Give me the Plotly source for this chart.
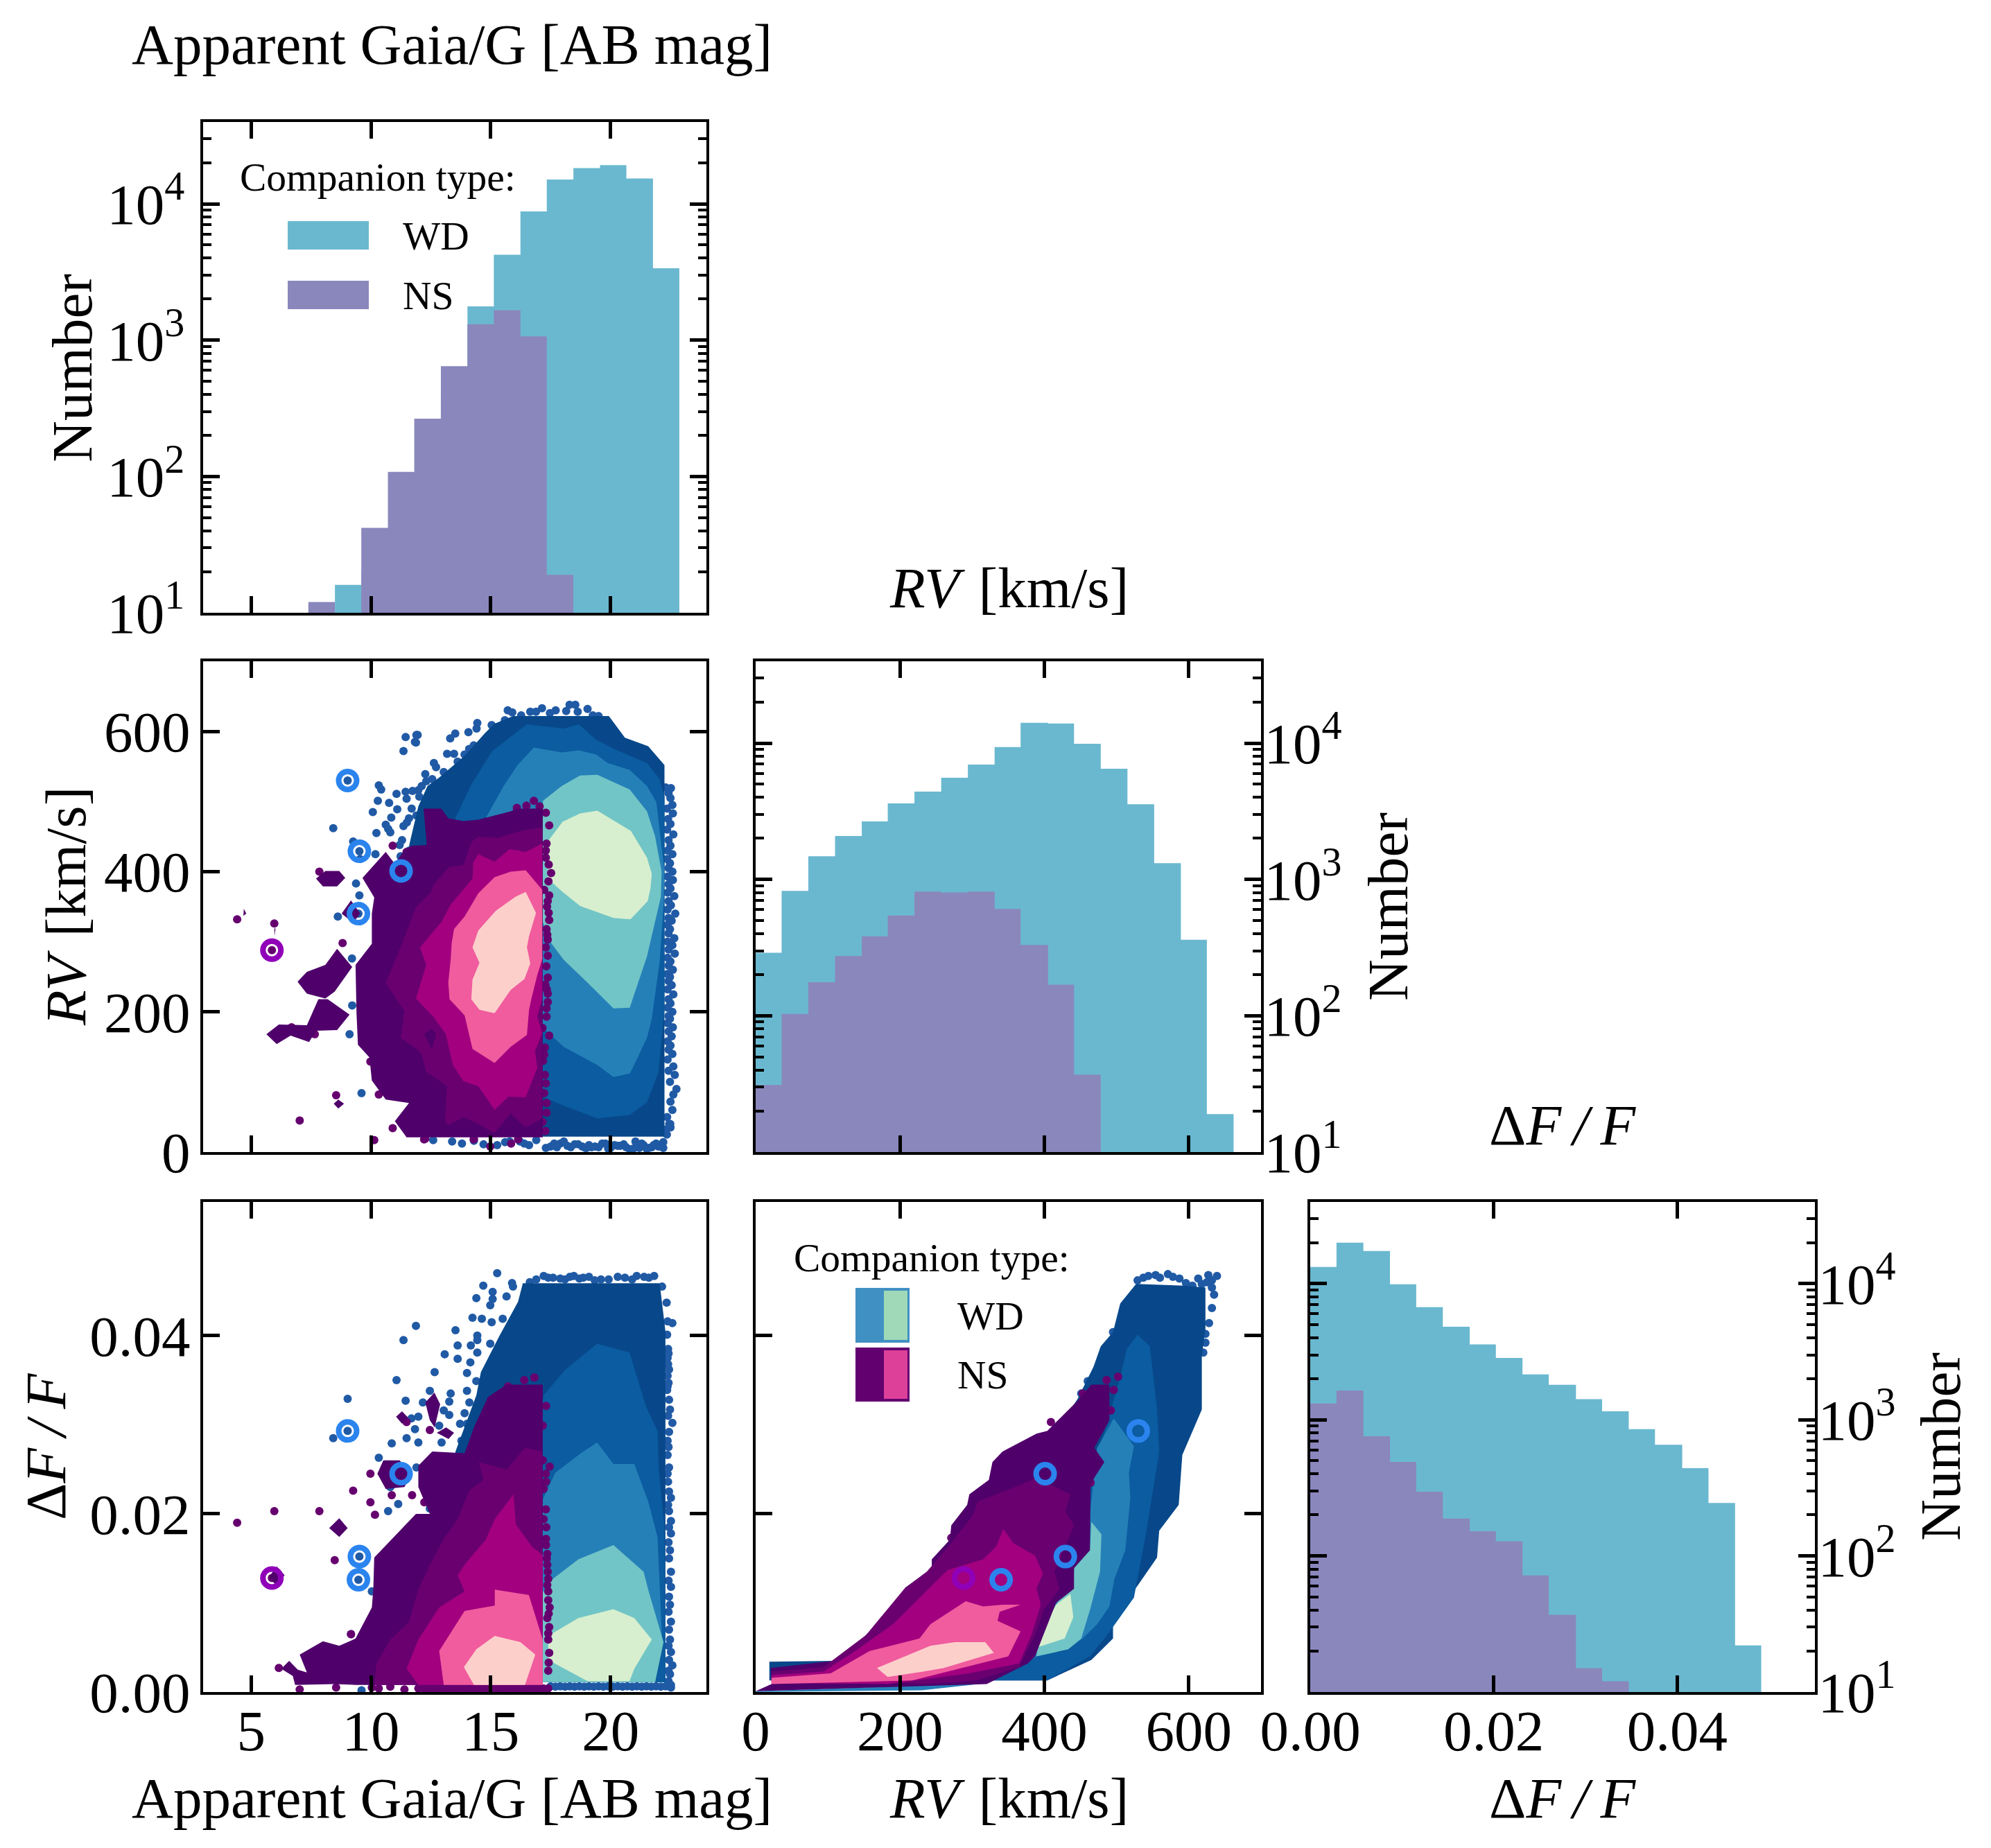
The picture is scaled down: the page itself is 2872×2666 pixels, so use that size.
"""Corner plot of apparent magnitude, RV and dF/F for WD and NS companions"""

import plotly.graph_objects as go

W, H = 2872, 2666
FONT = 'Liberation Serif'
PAGE_MARGIN = 8  # the browser's own body margin

# histograms -----------------------------------------------------------------
g_edges = [7.39, 8.50, 9.60, 10.71, 11.81, 12.92, 14.03, 15.13, 16.24, 17.34, 18.45, 19.56, 20.66, 21.77, 22.87]
g_wd = [None, 16, 20, 35, 90, 380, 1767, 4227, 8790, 15070, 18280, 19180, 15350, 3365]
g_ns = [12, None, 42, 108, 265, 644, 1306, 1660, 1067, 19, None, None, None, None]

rv_edges = [0, 36, 73, 110, 147, 183, 220, 257, 294, 331, 367, 405, 441, 478, 515, 552, 589, 625, 662]
rv_wd = [290, 824, 1480, 2083, 2660, 3614, 4406, 5570, 6950, 9340, 14070, 13900, 9890, 6490, 3555, 1315, 361, 19]
rv_ns = [31, 103, 176, 274, 383, 544, 815, 801, 815, 607, 330, 169, 37, None, None, None, None, None]

df_edges = [0, 0.00286, 0.00579, 0.00869, 0.01155, 0.01445, 0.01738, 0.02023, 0.02313, 0.02599, 0.02896, 0.03181,
            0.03471, 0.03757, 0.04054, 0.04340, 0.04630, 0.04915]
df_wd = [13280, 20000, 17370, 9890, 6715, 4830, 3573, 2845, 2155, 1806, 1415, 1153, 853, 656, 441, 245, 22]
df_ns = [1315, 1640, 757, 491, 296, 188, 152, 128, 72, 37, 15, 12, None, None, None, None, None]

# ring markers (blue = WD systems, purple = NS system)
ring_wd_g = [9.03, 9.52, 11.26, 9.48]
ring_wd_rv = [530, 429, 401, 340]
ring_wd_df = [0.0293, 0.0152, 0.0245, 0.0126]
ring_ns_g = [5.87]
ring_ns_rv = [288]
ring_ns_df = [0.0128]

# Gaia/G vs RV contours --------------------------------------------------------
grv_wd1_g = [11.98, 12.36, 12.84, 13.91, 14.77, 15.16, 15.93, 19.93, 20.6, 21.57, 22.25, 22.25, 12.0, 11.6, 11.6]
grv_wd1_rv = [493, 522, 534, 565, 598, 611, 622, 622, 591, 579, 552, 22, 22, 300, 438]
grv_wd2_g = [13.52, 14.19, 15.06, 16.51, 18.05, 18.68, 19.40, 20.27, 21.52, 22.05, 22.25, 22.25, 22.0, 21.52, 20.80,
             19.45, 18.05, 17.15, 14.0, 12.5, 13.0]
grv_wd2_rv = [476, 524, 572, 610, 604, 610, 588, 573, 555, 532, 507, 203, 114, 71, 53, 48, 66, 79, 70, 200, 400]
grv_wd3_g = [14.82, 15.54, 16.12, 16.80, 17.96, 18.68, 19.40, 19.88, 20.80, 21.52, 21.91, 22.10, 22.25, 22.22, 22.05,
             21.72, 21.52, 20.94, 20.80, 20.12, 19.45, 18.05, 17.18, 15.0]
grv_wd3_rv = [478, 522, 552, 577, 570, 573, 567, 555, 545, 522, 499, 443, 400, 358, 272, 190, 163, 121, 112, 107,
              124, 150, 177, 350]
grv_wd4_g = [17.18, 17.96, 18.73, 19.45, 20.80, 21.52, 21.86, 22.13, 22.10, 21.86, 21.52, 20.80, 20.12, 19.06, 18.05,
             17.52, 17.15]
grv_wd4_rv = [501, 522, 537, 538, 517, 486, 450, 400, 364, 330, 279, 206, 205, 241, 274, 298, 330]
grv_wd5_g = [17.38, 18.0, 18.73, 19.45, 20.85, 21.52, 21.72, 21.67, 21.55, 20.83, 20.12, 18.73, 18.0, 17.38]
grv_wd5_rv = [443, 471, 483, 487, 458, 420, 397, 377, 358, 332, 334, 351, 371, 390]

grv_ns1_g = [12.2, 12.94, 13.23, 13.86, 14.48, 15.83, 16.1, 17.17, 17.17, 11.49, 11.0, 11.59, 10.62, 10.04, 9.94,
             9.46, 9.40, 9.36, 10.04, 10.04, 10.14, 9.65, 10.62, 11.0, 11.4, 11.69, 12.33]
grv_ns1_rv = [490, 490, 476, 472, 474, 486, 490, 490, 21, 21, 44, 70, 75, 102, 135, 153, 198, 267, 297, 340, 363,
              391, 428, 411, 431, 437, 438]
grv_ns_isl_g = [7.71, 8.10, 8.68, 8.93, 8.59, 8.0, None, 8.78, 9.17, 9.55, 9.26, None,
                6.94, 7.33, 8.10, 8.59, 9.22, 8.49, 8.10, 7.33, None,
                7.81, 8.2, 9.11, 8.59, 7.71, 7.42, 6.65, 6.07, 5.64, 6.16, 7.33, None,
                8.64, 8.45, 8.64, 8.88, None, 4.7, 4.8, 4.68, None, 5.97, 6.02, 5.98]
grv_ns_isl_rv = [390, 401, 401, 391, 379, 379, None, 340, 359, 340, 327, None,
                 243, 257, 267, 290, 264, 229, 219, 226, None,
                 218, 218, 196, 174, 173, 157, 166, 154, 168, 182, 181, None,
                 75, 69, 62, 69, None, 347, 340, 337, None, 319, 319, 308]
grv_ns2_g = [17.15, 16.51, 15.93, 15.26, 14.48, 14.19, 13.86, 13.28, 12.60, 12.51, 11.88, 11.30, 10.62, 11.40, 11.24,
             11.90, 12.12, 12.31, 12.56, 13.18, 13.09, 13.23, 13.86, 14.48, 15.16, 15.83, 16.46, 17.15]
grv_ns2_rv = [463, 460, 455, 448, 450, 442, 409, 407, 381, 371, 349, 297, 241, 201, 163, 147, 140, 114, 109, 94, 45,
              38, 50, 40, 27, 55, 35, 48]
grv_ns_spot_g = [12.22, 12.54, 12.73, 12.54]
grv_ns_spot_rv = [168, 176, 168, 147]
grv_ns3_g = [17.15, 16.46, 15.79, 15.16, 14.48, 14.27, 14.24, 13.33, 12.94, 12.05, 12.31, 11.88, 12.60, 13.13, 13.42,
             13.86, 14.48, 15.16, 15.74, 16.46, 16.94, 16.85, 17.15, 16.94, 17.15]
grv_ns3_rv = [440, 428, 432, 414, 425, 413, 390, 353, 328, 292, 267, 219, 193, 168, 124, 101, 94, 60, 79, 78, 120,
              144, 170, 193, 219]
grv_ns4_g = [17.15, 16.46, 15.83, 15.16, 14.48, 13.91, 13.47, 13.37, 13.33, 13.23, 13.28, 13.91, 14.24, 15.16, 15.83,
             16.51, 16.6, 16.70, 16.94, 17.15]
grv_ns4_rv = [374, 402, 400, 392, 369, 336, 318, 298, 275, 242, 218, 195, 147, 127, 150, 167, 203, 219, 252, 275]
grv_ns5_g = [16.46, 16.03, 15.21, 14.48, 14.24, 14.53, 14.24, 14.19, 14.53, 15.16, 15.83, 16.41, 16.65, 16.51, 16.6,
             16.89]
grv_ns5_rv = [371, 364, 344, 316, 292, 270, 246, 218, 203, 198, 231, 247, 269, 292, 308, 341]

grv_dots_wd_g = [15.71, 15.90, 16.65, 17.14, 17.71, 18.29, 18.53, 19.04, 18.15, 16.89, 17.47, 18.63, 19.26, 19.50,
                 16.27, 15.59, 15.04, 14.44, 14.41, 14.07, 13.52, 13.31, 11.95, 11.88, 14.10, 14.29, 13.18, 13.47,
                 12.63, 12.72, 12.27, 12.56, 12.31, 12.12, 12.02, 11.98, 13.04, 13.62, 13.91,
                 11.45, 11.90, 11.84, 11.36, 10.33, 10.43, 11.07, 11.45, 11.74, 11.49, 10.29, 10.76, 10.08, 11.10,
                 10.85, 8.43, 11.59, 10.23, 10.62, 10.72, 11.36, 10.81, 9.26, 10.19, 9.55, 11.24, 9.38, 9.52, 8.62,
                 9.21, 9.22, 9.11, 9.61, 9.03, 9.52, 9.48, 11.5, 11.3, 11.7, 11.6, 11.9, 11.2]
grv_dots_wd_rv = [630, 627, 628, 633, 630, 638, 638, 632, 629, 628, 626, 628, 623, 622,
                  623, 616, 609, 612, 604, 599, 597, 590, 595, 584, 575, 580, 568, 568,
                  555, 549, 539, 532, 529, 522, 507, 516, 542, 557, 567,
                  592, 595, 585, 572, 523, 517, 511, 514, 515, 504, 501, 498, 485, 489,
                  477, 462, 476, 455, 467, 461, 465, 456, 443, 425, 418, 422, 383, 366, 336,
                  276, 209, 168, 84, 530, 429, 340, 470, 445, 490, 430, 480, 438]
# the crowded band down the faint side and along the RV floor
grv_edge_g = [22.30, 22.52, 22.42, 22.50, 22.58, 22.36, 22.60, 22.40, 22.50, 22.36, 22.62, 22.42, 22.50, 22.38, 22.58,
              22.36, 22.48, 22.42, 22.58, 22.38, 22.60, 22.42, 22.50, 22.38, 22.66, 22.42, 22.52, 22.38, 22.70, 22.42,
              22.55, 22.38, 22.48, 22.42, 22.66, 22.38, 22.58, 22.42, 22.68, 22.38, 22.50, 22.42, 22.60, 22.38, 22.48,
              22.42, 22.55, 22.38, 22.62, 22.42, 22.50, 22.38, 22.58, 22.42, 22.48, 22.38, 22.60, 22.42, 22.55, 22.38,
              22.50, 22.42, 22.58, 22.38, 22.62, 22.42, 22.68, 22.48, 22.75, 22.62, 22.50, 22.58, 22.36, 22.45, 22.50,
              22.35, 22.2,
              12.6, 13.39, 13.8, 14.3, 14.7, 15.27, 15.6, 15.79, 16.22, 16.4, 16.6, 16.9, 17.3, 17.76, 17.9, 18.05,
              18.34, 18.5, 18.82, 19.0, 19.21, 19.5, 19.79, 19.9, 20.17, 20.4, 20.65, 20.8, 21.04, 21.2, 21.38, 21.5,
              21.72, 21.9, 22.1, 22.49, 22.29,
              17.5, 17.65, 18.2, 18.65, 18.95, 19.1, 19.35, 19.65, 20.0, 20.3, 20.55, 20.95, 21.1, 21.3, 21.6, 21.8,
              22.0, 22.2]
grv_edge_rv = [520, 519, 512, 505, 495, 490, 483, 475, 468, 460, 453, 445, 437, 430, 425, 418, 412, 405, 400, 393,
               388, 382, 376, 370, 365, 358, 352, 346, 340, 334, 330, 324, 318, 312, 305, 300, 295, 289, 283, 277,
               272, 266, 260, 254, 250, 244, 238, 232, 225, 218, 212, 206, 200, 194, 190, 184, 178, 172, 165, 158,
               152, 146, 140, 132, 122, 116, 110, 100, 90, 82, 72, 60, 50, 40, 35, 25, 14,
               17, 15, 12, 16, 11, 10, 14, 15, 15, 12, 10, 17, 6, 7, 12, 15, 7, 11, 8, 6, 7, 7, 12, 5, 10, 9, 7, 4, 15,
               6, 10, 5, 7, 12, 9, 40, 32,
               8, 12, 9, 11, 6, 10, 8, 12, 6, 9, 11, 5, 8, 12, 6, 10, 8, 6]
grv_dots_ns_g = [4.42, 5.97, 7.85, 8.82, 10.91, 11.49, 6.69, 7.66, 8.55, 7.03, 10.91, 10.14, 9.98, 10.33, 14.98, 15.85,
                 14.3, 12.27, 16.09, 16.49, 16.8, 17.04, 17.3, 17.44, 17.33, 17.3, 17.42, 17.52, 17.41, 17.23, 17.44,
                 17.38, 17.42, 17.44, 17.33, 17.38, 17.38, 17.38, 17.28, 17.38, 17.38, 17.33, 17.33, 17.44, 17.16,
                 17.26, 17.23, 17.18, 17.23, 17.33, 17.16, 14.29, 12.22, 16.14, 5.87, 17.3, 17.35, 17.36, 17.3, 17.32,
                 17.34, 17.26, 17.3, 17.33, 17.28]
grv_dots_ns_rv = [332, 326, 400, 298, 437, 428, 178, 168, 81, 45, 34, 17, 129, 82, 8, 12,
                  19, 19, 491, 494, 501, 493, 484, 466, 440, 430, 410, 398, 386, 374, 366,
                  358, 341, 331, 318, 303, 280, 249, 239, 226, 214, 205, 193, 166, 177,
                  149, 139, 130, 84, 56, 43, 18, 18, 18, 288, 420, 350, 310, 292, 265, 232, 110, 98, 70, 30]

# Gaia/G vs dF/F contours ------------------------------------------------------
gdf_wd1_g = [16.34, 22.05, 22.29, 22.29, 17.15, 12.5, 13.53, 14.40, 14.59, 15.37, 16.14]
gdf_wd1_df = [0.04588, 0.04588, 0.0405, 0.0011, 0.0011, 0.005, 0.0270, 0.0333, 0.0359, 0.0400, 0.0438]
gdf_wd2_g = [17.21, 18.08, 19.44, 20.79, 21.47, 21.96, 22.01, 22.25, 22.29, 17.15, 14.0]
gdf_wd2_df = [0.0333, 0.0361, 0.0391, 0.0381, 0.0321, 0.0293, 0.025, 0.0186, 0.0011, 0.0011, 0.002]
gdf_wd3_g = [17.17, 17.69, 18.76, 19.44, 20.12, 20.99, 21.57, 21.96, 22.15, 21.86, 17.15]
gdf_wd3_df = [0.0216, 0.0246, 0.0268, 0.028, 0.0256, 0.0256, 0.0214, 0.0174, 0.0059, 0.0011, 0.0011]
gdf_wd4_g = [17.15, 17.5, 18.66, 20.12, 21.38, 21.57, 22.21, 21.86, 17.15]
gdf_wd4_df = [0.0111, 0.0125, 0.0149, 0.0165, 0.0135, 0.0115, 0.0056, 0.0011, 0.0011]
gdf_wd5_g = [17.4, 18.66, 20.12, 20.99, 21.72, 20.99, 20.79, 19.05, 17.4]
gdf_wd5_df = [0.0063, 0.0083, 0.0093, 0.0083, 0.0059, 0.0026, 0.0012, 0.0012, 0.0036]

gdf_ns1_g = [17.17, 15.66, 14.88, 14.30, 13.91, 12.56, 11.98, 11.98, 12.46, 11.88, 10.14, 10.10, 10.04, 9.36, 8.68,
             8.0, 7.03, 7.33, 6.95, 6.59, 6.26, 6.74, 6.84, 8.49, 9.36, 17.17]
gdf_ns1_df = [0.0345, 0.0345, 0.0331, 0.0297, 0.0268, 0.027, 0.0254, 0.023, 0.02, 0.02, 0.0151, 0.0115, 0.0095, 0.006,
              0.0052, 0.0057, 0.0042, 0.0022, 0.0025, 0.0035, 0.0026, 0.0018, 0.0008, 0.0009, 0.0008, 0.0008]
gdf_ns_isl_g = [10.27, 10.52, 11.2, 11.69, 11.4, 10.62, None, 12.27, 12.65, 12.89, 12.66, 12.46, None,
                11.05, 11.3, 11.55, 11.3, None, 12.75, 13.14, 13.47, 13.24, None,
                8.26, 8.68, 9.03, 8.68, None, 5.74, 6.07, 6.4, 6.07]
gdf_ns_isl_df = [0.0245, 0.026, 0.026, 0.0245, 0.023, 0.0228, None, 0.0325, 0.0336, 0.0323, 0.0297, 0.0305, None,
                 0.0309, 0.0315, 0.0308, 0.0301, None, 0.0291, 0.0297, 0.0291, 0.0284, None,
                 0.0184, 0.0195, 0.0184, 0.0174, None, 0.0129, 0.0141, 0.0131, 0.0119]
gdf_ns2_g = [17.15, 16.43, 15.66, 14.5, 14.7, 14.1, 13.62, 13.04, 12.46, 11.98, 11.59, 10.81, 10.23, 10.14, 17.17]
gdf_ns2_df = [0.027, 0.0274, 0.025, 0.0258, 0.0238, 0.0226, 0.0194, 0.0172, 0.0143, 0.0115, 0.0079, 0.0059, 0.0032,
              0.0008, 0.0008]
gdf_ns3_g = [17.17, 11.98, 11.49, 11.98, 12.85, 13.91, 13.62, 13.91, 14.79, 15.17, 15.95, 16.05, 16.72, 17.17]
gdf_ns3_df = [0.0008, 0.0008, 0.0026, 0.0059, 0.0095, 0.0113, 0.0131, 0.0143, 0.0171, 0.0194, 0.0222, 0.0188, 0.0163,
              0.0154]
gdf_ns4_g = [17.17, 16.59, 15.17, 15.17, 13.91, 12.85, 13.04, 17.17]
gdf_ns4_df = [0.0059, 0.0109, 0.0115, 0.0097, 0.0091, 0.0046, 0.0008, 0.0008]
gdf_ns5_g = [15.17, 16.24, 16.86, 16.43, 14.3, 13.88, 14.4]
gdf_ns5_df = [0.0063, 0.0056, 0.0042, 0.0008, 0.0008, 0.0028, 0.0048]

gdf_dots_wd_g = [15.27, 14.69, 15.89, 15.93, 15.08, 14.4, 15.08, 15.66, 14.98, 14.24, 14.63, 15.04, 15.5, 11.88, 11.36,
                 13.53, 14.44, 14.44, 13.62, 14.17, 14.98, 13.08, 13.62, 14.44, 14.15, 12.66, 14.01, 11.07, 14.4, 12.46,
                 13.33, 14.01, 11.45, 13.27, 12.17, 14.11, 9.03, 13.04, 13.91, 13.27, 11.98, 11.69, 13.72, 14.01, 11.84,
                 12.85, 8.43, 11.49, 9.03, 10.87, 11.98, 12.95, 13.78, 10.33, 11.9, 11.14, 10.72, 12.46, 10.33, 10.04,
                 10.81, 9.17, 9.07, 9.61, 9.52, 9.48,
                 16.63, 17.21, 17.6, 18.1, 18.47, 18.86, 19.34, 19.92, 20.6, 21.09, 21.82, 22.15, 22.34, 22.58, 22.38,
                 16.9, 17.4, 17.9, 18.3, 18.7, 19.1, 19.6, 20.3, 20.9, 21.4, 21.6]
gdf_dots_wd_df = [0.047, 0.0456, 0.0459, 0.0455, 0.0449, 0.0442, 0.0441, 0.0444, 0.0434, 0.042, 0.0419, 0.0415, 0.0419,
                  0.0411, 0.0395, 0.0406, 0.04, 0.0395, 0.0389, 0.0389, 0.0391, 0.0379, 0.0374, 0.0381, 0.037, 0.0359,
                  0.0358, 0.035, 0.0349, 0.0338, 0.0335, 0.0338, 0.0327, 0.0326, 0.0325, 0.0325, 0.0329, 0.0316, 0.0313,
                  0.0311, 0.0309, 0.0307, 0.0301, 0.0301, 0.0295, 0.0299, 0.0285, 0.0285, 0.0293, 0.0279, 0.028, 0.028,
                  0.0282, 0.0263, 0.0252, 0.0211, 0.0203, 0.0206, 0.0128, 0.0113, 0.023, 0.0065, 0.0024, 0.0002, 0.0152,
                  0.0126,
                  0.046, 0.0467, 0.0465, 0.0463, 0.0467, 0.0465, 0.0462, 0.0463, 0.0465, 0.0467, 0.0467, 0.0455, 0.0437,
                  0.0414, 0.0416,
                  0.0463, 0.0465, 0.0464, 0.0466, 0.0464, 0.0466, 0.0463, 0.0466, 0.0463, 0.0466, 0.0465]
gdf_edge_g = [22.36, 22.40, 22.42, 22.38, 22.40, 22.44, 22.38, 22.42, 22.38, 22.36, 22.44, 22.48, 22.40, 22.58, 22.44,
              22.38, 22.42, 22.38, 22.44, 22.38, 22.40, 22.44, 22.52, 22.40, 22.44, 22.52, 22.44, 22.52, 22.42, 22.48,
              22.44, 22.52, 22.42, 22.52, 22.44, 22.48, 22.42, 22.52, 22.44, 22.48, 22.42, 22.52, 22.44, 22.58, 22.42,
              22.48, 22.42, 22.52, 22.52,
              17.5, 17.7, 17.9, 18.1, 18.3, 18.5, 18.7, 18.9, 19.1, 19.3, 19.5, 19.7, 19.9, 20.1, 20.3, 20.5, 20.7, 20.9,
              21.1, 21.3, 21.5, 21.7, 21.9, 22.1, 22.3]
gdf_edge_df = [0.0401, 0.0385, 0.038, 0.0375, 0.0368, 0.0362, 0.0355, 0.0347, 0.0343, 0.0339, 0.0328, 0.0317, 0.031,
               0.0302, 0.0292, 0.0282, 0.0275, 0.0266, 0.0252, 0.0245, 0.0236, 0.0225, 0.0218, 0.021, 0.0203, 0.0192,
               0.0185, 0.0178, 0.0168, 0.0159, 0.015, 0.0135, 0.0125, 0.0118, 0.0107, 0.0098, 0.009, 0.0079, 0.007,
               0.0059, 0.0052, 0.0045, 0.0036, 0.003, 0.0024, 0.002, 0.0012, 0.0008, 0.0005,
               0.00065, 0.0006, 0.00065, 0.0006, 0.00065, 0.0006, 0.00065, 0.0006, 0.00065, 0.0006, 0.00065, 0.0006,
               0.00065, 0.0006, 0.00065, 0.0006, 0.00065, 0.0006, 0.00065, 0.0006, 0.00065, 0.0006, 0.00065, 0.0006,
               0.00065]
gdf_dots_ns_g = [4.42, 5.97, 7.85, 9.26, 10.87, 11.72, 9.98, 10.17, 12.23, 9.98, 8.49, 6.16, 9.17, 7.03, 8.55, 11.49,
                 12.46, 16.4, 16.82, 15.72, 17.31, 17.17, 17.17, 17.46, 17.31, 17.21, 17.21, 17.31, 17.31, 17.36, 17.36,
                 17.4, 17.4, 17.46, 17.36, 17.44, 17.4, 17.44, 17.4, 17.4, 10.04, 10.33, 10.81, 11.4, 11.98, 12.4, 12.8,
                 13.2, 13.6, 14.0, 14.4, 14.8, 15.2, 15.6, 16.0, 16.4, 16.8, 17.2, 5.87, 17.3, 17.32, 17.3, 17.34, 17.38,
                 17.36, 17.4, 17.42, 17.4, 17.42,
                 12.2, 12.6, 13.0, 13.4, 13.8, 14.2, 14.6, 15.0, 15.4, 15.8, 16.2, 16.6, 17.0]
gdf_dots_ns_df = [0.019, 0.0203, 0.0203, 0.0226, 0.0221, 0.0221, 0.0213, 0.0199, 0.0213, 0.0245, 0.0148, 0.0027, 0.0065,
                  0.0003, 0.0005, 0.0303, 0.0294, 0.035, 0.0353, 0.0343, 0.0321, 0.0299, 0.026, 0.0253, 0.0236, 0.0228,
                  0.0194, 0.0172, 0.0165, 0.0155, 0.0143, 0.0127, 0.0113, 0.0095, 0.0083, 0.0073, 0.0059, 0.0044, 0.0024,
                  0.0004, 0.0005, 0.0004, 0.0006, 0.0003, 0.0004, 0.0004, 0.0004, 0.0004, 0.0004, 0.0004, 0.0004, 0.0004,
                  0.0004, 0.0004, 0.0004, 0.0004, 0.0004, 0.0004, 0.0128, 0.0245, 0.0185, 0.0205, 0.015, 0.0135, 0.012,
                  0.0103, 0.0088, 0.0066, 0.0033,
                  0.0004, 0.0004, 0.0004, 0.0004, 0.0004, 0.0004, 0.0004, 0.0004, 0.0004, 0.0004, 0.0004, 0.0004, 0.0004]

# RV vs dF/F contours ----------------------------------------------------------
rdf_wd1_rv = [527, 593, 623, 623, 618, 618, 591, 586, 559, 556, 527, 495, 495, 465, 404, 19, 19, 109, 300, 446, 468,
              478, 495, 505]
rdf_wd1_df = [0.0458, 0.0456, 0.0454, 0.0408, 0.0377, 0.0317, 0.0266, 0.021, 0.0181, 0.0151, 0.0117, 0.0078, 0.006,
              0.0036, 0.0013, 0.0013, 0.0034, 0.0035, 0.015, 0.0329, 0.0365, 0.0388, 0.0404, 0.0436]
rdf_wd_sliver_rv = [0, 320, 230, 0]
rdf_wd_sliver_df = [0.0001, 0.0010, 0.0002, 0.0000]
rdf_wd2_rv = [529, 546, 556, 559, 541, 524, 487, 463, 404, 320, 450, 492, 505, 514]
rdf_wd2_df = [0.0401, 0.0388, 0.0317, 0.027, 0.0179, 0.0106, 0.0064, 0.004, 0.0013, 0.0013, 0.02, 0.0317, 0.0353, 0.0385]
rdf_wd3_rv = [496, 524, 517, 519, 512, 497, 490, 473, 453, 433, 389, 374, 333, 320, 463, 473]
rdf_wd3_df = [0.0307, 0.0276, 0.0246, 0.0218, 0.0159, 0.0127, 0.0096, 0.0076, 0.006, 0.0048, 0.004, 0.0032, 0.0017,
              0.0013, 0.0199, 0.0274]
rdf_wd4_rv = [465, 479, 477, 463, 451, 433, 389, 392, 419, 440, 441, 463]
rdf_wd4_df = [0.0191, 0.0177, 0.0135, 0.0092, 0.006, 0.0048, 0.004, 0.006, 0.0102, 0.0116, 0.0139, 0.0159]
rdf_wd5_rv = [436, 440, 428, 389, 392, 416]
rdf_wd5_df = [0.011, 0.0084, 0.006, 0.005, 0.0062, 0.0098]

rdf_ns1_rv = [490, 465, 446, 404, 389, 342, 328, 323, 296, 293, 271, 269, 244, 244, 207, 193, 148, 109, 21, 22, 0, 320,
              377, 387, 416, 441, 441, 463, 464, 483, 469, 490]
rdf_ns1_df = [0.0345, 0.0345, 0.0327, 0.0293, 0.029, 0.027, 0.0258, 0.0238, 0.0222, 0.021, 0.0187, 0.0171, 0.0149,
              0.0139, 0.0117, 0.0096, 0.006, 0.0035, 0.0027, 0.0009, 0.0001, 0.0009, 0.0032, 0.004, 0.01, 0.0116, 0.0139,
              0.0159, 0.0234, 0.0258, 0.0274, 0.0305]
rdf_ns2_rv = [389, 436, 429, 441, 414, 421, 399, 387, 365, 306, 237, 22, 22, 94, 153, 205, 237, 271, 301, 308, 365]
rdf_ns2_df = [0.024, 0.0222, 0.0203, 0.0187, 0.0135, 0.0116, 0.0092, 0.0064, 0.0028, 0.0013, 0.0009, 0.0016, 0.0023,
              0.0028, 0.0064, 0.0115, 0.0135, 0.0167, 0.0199, 0.0214, 0.0232]
rdf_ns3_rv = [343, 357, 387, 398, 389, 395, 382, 365, 296, 183, 22, 22, 94, 134, 190, 232, 266, 315, 333]
rdf_ns3_df = [0.0183, 0.0167, 0.0153, 0.0133, 0.0116, 0.0098, 0.0064, 0.0032, 0.0021, 0.0009, 0.001, 0.0019, 0.0023,
              0.0044, 0.0076, 0.011, 0.0137, 0.0149, 0.0163]
rdf_ns4_rv = [291, 315, 342, 367, 338, 335, 367, 350, 286, 217, 22, 22, 104, 158, 227, 242]
rdf_ns4_df = [0.0102, 0.0096, 0.0098, 0.0098, 0.009, 0.008, 0.0068, 0.004, 0.0027, 0.0013, 0.0009, 0.0016, 0.0021,
              0.0046, 0.006, 0.0076]
rdf_ns5_rv = [168, 242, 276, 318, 330, 261, 232, 183]
rdf_ns5_df = [0.0027, 0.0052, 0.0056, 0.0056, 0.0044, 0.0027, 0.0023, 0.0017]

rdf_dots_wd_rv = [529, 544, 554, 571, 587, 596, 613, 627, 639, 632, 635, 632, 628, 623, 623, 620, 605, 625, 460, 451,
                  495, 530, 429, 401, 340, 537, 560, 578, 618, 632]
rdf_dots_wd_df = [0.0462, 0.0467, 0.0468, 0.0469, 0.0464, 0.0459, 0.0464, 0.0468, 0.0467, 0.0454, 0.0446, 0.0431, 0.0414,
                  0.0402, 0.0392, 0.0381, 0.0456, 0.046, 0.0349, 0.0335, 0.0404, 0.0293, 0.0152, 0.0245, 0.0126, 0.0465,
                  0.0465, 0.0466, 0.0458, 0.0462]
rdf_dots_ns_rv = [486, 502, 496, 453, 492, 409, 367, 464, 271]
rdf_dots_ns_df = [0.035, 0.0354, 0.0339, 0.0335, 0.0316, 0.0303, 0.0275, 0.0235, 0.0173]

# tick labels
g_ticks = [5, 10, 15, 20]
rv_ticks = [0, 200, 400, 600]
df_ticks = [0, 0.02, 0.04]
df_ticktext = ['0.00', '0.02', '0.04']
count_ticks = [10, 100, 1000, 10000]
count_ticktext = ['10<sup>1</sup>', '10<sup>2</sup>', '10<sup>3</sup>', '10<sup>4</sup>']

# colours
C_HIST_WD = '#6ab8d0'
C_HIST_NS = '#8a87bd'
C_WD = ['#08488a', '#0b5ca0', '#2680b8', '#72c5c6', '#d7efcf']
C_NS = ['#4f006b', '#6a0070', '#a2007f', '#f05c9e', '#fdcfcb']
C_DOT_WD = '#205aa5'
C_DOT_NS = '#66006f'
C_RING_WD = '#2b84ee'
C_RING_NS = '#9000b8'

# panel frames in page pixels: left, right, top, bottom
COLS = [(293, 1019), (1090, 1819), (1890, 2618)]
ROWS = [(176, 884), (954, 1662), (1734, 2441)]


def px(x):
    return (x - PAGE_MARGIN) / W


def py(y):
    return 1 - (y - PAGE_MARGIN) / H


def axis(frame, horizontal, **kw):
    lo, hi = frame
    domain = [px(lo), px(hi)] if horizontal else [py(hi), py(lo)]
    settings = dict(domain=domain, automargin=False, showgrid=False, zeroline=False, showline=True, linecolor='black',
                    linewidth=4, mirror='ticks', ticks='inside', ticklen=24, tickwidth=5, tickcolor='black',
                    layer='above traces', tickfont=dict(family=FONT, size=83, color='black'),
                    ticklabelstandoff=-20 if horizontal else -2)
    settings.update(kw)
    return settings


def fixed_ticks(vals, text=None):
    if text is None:
        return dict(tickmode='array', tickvals=vals, showticklabels=False)
    return dict(tickmode='array', tickvals=vals, ticktext=text, showticklabels=True)


def log_axis(frame, side, labelled=True):
    minor_vals = [m * 10 ** e for e in range(1, 5) for m in range(2, 10) if m * 10 ** e < 40000]
    return axis(frame, False, type='log', range=[1, 4.6], side=side,
                ticklabelstandoff=6 if side == 'left' else -16,
                minor=dict(tickmode='array', tickvals=minor_vals, ticks='inside', ticklen=12, tickwidth=4,
                           tickcolor='black'),
                **fixed_ticks(count_ticks, count_ticktext if labelled else None))


def add_hist(fig, edges, wd, ns, xa, ya):
    # one closed step outline per series, empty bins sit on the axis floor
    for vals, colour in ((wd, C_HIST_WD), (ns, C_HIST_NS)):
        xs, ys = [edges[0]], [10]
        for i, v in enumerate(vals):
            v = 10 if v is None else v
            xs += [edges[i], edges[i + 1]]
            ys += [v, v]
        xs.append(edges[-1])
        ys.append(10)
        add_poly(fig, xs, ys, colour, xa, ya)


def add_poly(fig, xs, ys, colour, xa, ya):
    fig.add_trace(go.Scatter(x=xs, y=ys, xaxis=xa, yaxis=ya, mode='lines', fill='toself', fillcolor=colour,
                             line=dict(width=0, color=colour), showlegend=False, hoverinfo='skip'))


def add_dots(fig, xs, ys, colour, xa, ya):
    fig.add_trace(go.Scatter(x=xs, y=ys, xaxis=xa, yaxis=ya, mode='markers', showlegend=False, hoverinfo='skip',
                             marker=dict(size=12, color=colour, line_width=0)))


def add_rings(fig, xs, ys, colour, xa, ya):
    fig.add_trace(go.Scatter(x=xs, y=ys, xaxis=xa, yaxis=ya, mode='markers', showlegend=False, hoverinfo='skip',
                             marker=dict(symbol='circle-open', size=26, color=colour,
                                         line=dict(width=8, color=colour))))


def label(x, y, text, size=83, angle=0, anchor='center'):
    return dict(xref='paper', yref='paper', x=px(x), y=py(y), text=text, showarrow=False, xanchor=anchor,
                yanchor='middle', textangle=angle, font=dict(family=FONT, size=size, color='black'))


def patch(x0, x1, y0, y1, colour):
    return dict(type='rect', xref='paper', yref='paper', x0=px(x0), x1=px(x1), y0=py(y0), y1=py(y1),
                fillcolor=colour, line_width=0, layer='above')


fig = go.Figure()

# histograms on the diagonal
add_hist(fig, g_edges, g_wd, g_ns, 'x', 'y')
add_hist(fig, rv_edges, rv_wd, rv_ns, 'x4', 'y4')
add_hist(fig, df_edges, df_wd, df_ns, 'x6', 'y6')

# Gaia/G vs RV
add_dots(fig, grv_dots_wd_g, grv_dots_wd_rv, C_DOT_WD, 'x2', 'y2')
add_dots(fig, grv_edge_g, grv_edge_rv, C_DOT_WD, 'x2', 'y2')
for xs, ys, c in zip((grv_wd1_g, grv_wd2_g, grv_wd3_g, grv_wd4_g, grv_wd5_g),
                     (grv_wd1_rv, grv_wd2_rv, grv_wd3_rv, grv_wd4_rv, grv_wd5_rv), C_WD):
    add_poly(fig, xs, ys, c, 'x2', 'y2')
add_dots(fig, grv_dots_ns_g, grv_dots_ns_rv, C_DOT_NS, 'x2', 'y2')
add_poly(fig, grv_ns1_g, grv_ns1_rv, C_NS[0], 'x2', 'y2')
add_poly(fig, grv_ns_isl_g, grv_ns_isl_rv, C_NS[0], 'x2', 'y2')
for xs, ys, c in zip((grv_ns2_g, grv_ns_spot_g, grv_ns3_g, grv_ns4_g, grv_ns5_g),
                     (grv_ns2_rv, grv_ns_spot_rv, grv_ns3_rv, grv_ns4_rv, grv_ns5_rv),
                     (C_NS[1], C_NS[0], C_NS[2], C_NS[3], C_NS[4])):
    add_poly(fig, xs, ys, c, 'x2', 'y2')
add_rings(fig, ring_wd_g, ring_wd_rv, C_RING_WD, 'x2', 'y2')
add_rings(fig, ring_ns_g, ring_ns_rv, C_RING_NS, 'x2', 'y2')

# Gaia/G vs dF/F
add_dots(fig, gdf_dots_wd_g, gdf_dots_wd_df, C_DOT_WD, 'x3', 'y3')
add_dots(fig, gdf_edge_g, gdf_edge_df, C_DOT_WD, 'x3', 'y3')
for xs, ys, c in zip((gdf_wd1_g, gdf_wd2_g, gdf_wd3_g, gdf_wd4_g, gdf_wd5_g),
                     (gdf_wd1_df, gdf_wd2_df, gdf_wd3_df, gdf_wd4_df, gdf_wd5_df), C_WD):
    add_poly(fig, xs, ys, c, 'x3', 'y3')
add_dots(fig, gdf_dots_ns_g, gdf_dots_ns_df, C_DOT_NS, 'x3', 'y3')
add_poly(fig, gdf_ns1_g, gdf_ns1_df, C_NS[0], 'x3', 'y3')
add_poly(fig, gdf_ns_isl_g, gdf_ns_isl_df, C_NS[0], 'x3', 'y3')
for xs, ys, c in zip((gdf_ns2_g, gdf_ns3_g, gdf_ns4_g, gdf_ns5_g),
                     (gdf_ns2_df, gdf_ns3_df, gdf_ns4_df, gdf_ns5_df), C_NS[1:]):
    add_poly(fig, xs, ys, c, 'x3', 'y3')
add_rings(fig, ring_wd_g, ring_wd_df, C_RING_WD, 'x3', 'y3')
add_rings(fig, ring_ns_g, ring_ns_df, C_RING_NS, 'x3', 'y3')

# RV vs dF/F
add_dots(fig, rdf_dots_wd_rv, rdf_dots_wd_df, C_DOT_WD, 'x5', 'y5')
add_poly(fig, rdf_wd_sliver_rv, rdf_wd_sliver_df, C_WD[2], 'x5', 'y5')
for xs, ys, c in zip((rdf_wd1_rv, rdf_wd2_rv, rdf_wd3_rv, rdf_wd4_rv, rdf_wd5_rv),
                     (rdf_wd1_df, rdf_wd2_df, rdf_wd3_df, rdf_wd4_df, rdf_wd5_df), C_WD):
    add_poly(fig, xs, ys, c, 'x5', 'y5')
add_dots(fig, rdf_dots_ns_rv, rdf_dots_ns_df, C_DOT_NS, 'x5', 'y5')
for xs, ys, c in zip((rdf_ns1_rv, rdf_ns2_rv, rdf_ns3_rv, rdf_ns4_rv, rdf_ns5_rv),
                     (rdf_ns1_df, rdf_ns2_df, rdf_ns3_df, rdf_ns4_df, rdf_ns5_df), C_NS):
    add_poly(fig, xs, ys, c, 'x5', 'y5')
add_rings(fig, ring_wd_rv, ring_wd_df, C_RING_WD, 'x5', 'y5')
add_rings(fig, ring_ns_rv, ring_ns_df, C_RING_NS, 'x5', 'y5')

G_RANGE = [3, 24]
RV_RANGE = [0, 700]
DF_RANGE = [0, 0.055]
RV_LABEL = '<i>RV</i>\u00a0\u200a[km/s]'
DF_LABEL = '\u0394<i>F</i>\u2009<i>/</i>\u2009<i>F</i>'
G_LABEL = 'Apparent Gaia/G [AB mag]'

fig.update_layout(
    template='none', width=W, height=H, autosize=False, paper_bgcolor='white', plot_bgcolor='white', showlegend=False,
    margin=dict(l=0, r=0, t=0, b=0, pad=0),
    xaxis=axis(COLS[0], True, range=G_RANGE, anchor='y', **fixed_ticks(g_ticks)),
    yaxis=log_axis(ROWS[0], 'left'),
    xaxis2=axis(COLS[0], True, range=G_RANGE, anchor='y2', **fixed_ticks(g_ticks)),
    yaxis2=axis(ROWS[1], False, range=RV_RANGE, anchor='x2', **fixed_ticks(rv_ticks, [str(v) for v in rv_ticks])),
    xaxis3=axis(COLS[0], True, range=G_RANGE, anchor='y3', **fixed_ticks(g_ticks, [str(v) for v in g_ticks])),
    yaxis3=axis(ROWS[2], False, range=DF_RANGE, anchor='x3', **fixed_ticks(df_ticks, df_ticktext)),
    xaxis4=axis(COLS[1], True, range=RV_RANGE, anchor='y4', **fixed_ticks(rv_ticks)),
    yaxis4=dict(log_axis(ROWS[1], 'right'), anchor='x4'),
    xaxis5=axis(COLS[1], True, range=RV_RANGE, anchor='y5', **fixed_ticks(rv_ticks, [str(v) for v in rv_ticks])),
    yaxis5=axis(ROWS[2], False, range=DF_RANGE, anchor='x5', **fixed_ticks(df_ticks)),
    xaxis6=axis(COLS[2], True, range=DF_RANGE, anchor='y6', **fixed_ticks(df_ticks, df_ticktext)),
    yaxis6=dict(log_axis(ROWS[2], 'right'), anchor='x6'),
    annotations=[
        label(652, 64, G_LABEL),
        label(652, 2594, G_LABEL),
        label(1455, 848, RV_LABEL),
        label(1455, 2594, RV_LABEL),
        label(2254, 1623, DF_LABEL),
        label(2254, 2594, DF_LABEL),
        label(104, 531, 'Number', angle=-90),
        label(95, 1308, RV_LABEL, angle=-90),
        label(66, 2087, DF_LABEL, angle=-90),
        label(2002, 1308, 'Number', angle=-90),
        label(2799, 2087, 'Number', angle=-90),
        # first legend
        label(344, 255, 'Companion type:', size=57.5, anchor='left'),
        label(579, 340, 'WD', size=57.5, anchor='left'),
        label(579, 426, 'NS', size=57.5, anchor='left'),
        # second legend
        label(1143, 1815, 'Companion type:', size=57.5, anchor='left'),
        label(1379, 1898, 'WD', size=57.5, anchor='left'),
        label(1379, 1983, 'NS', size=57.5, anchor='left'),
    ],
    shapes=[
        patch(415, 532, 319, 360, C_HIST_WD),
        patch(415, 532, 405, 446, C_HIST_NS),
        patch(1234, 1312, 1858, 1937, '#4190c3'),
        patch(1275, 1309, 1862, 1933, '#a0d9b8'),
        patch(1234, 1312, 1944, 2022, '#620070'),
        patch(1275, 1309, 1948, 2018, '#dd4098'),
    ],
)

fig.write_html('out.html')
